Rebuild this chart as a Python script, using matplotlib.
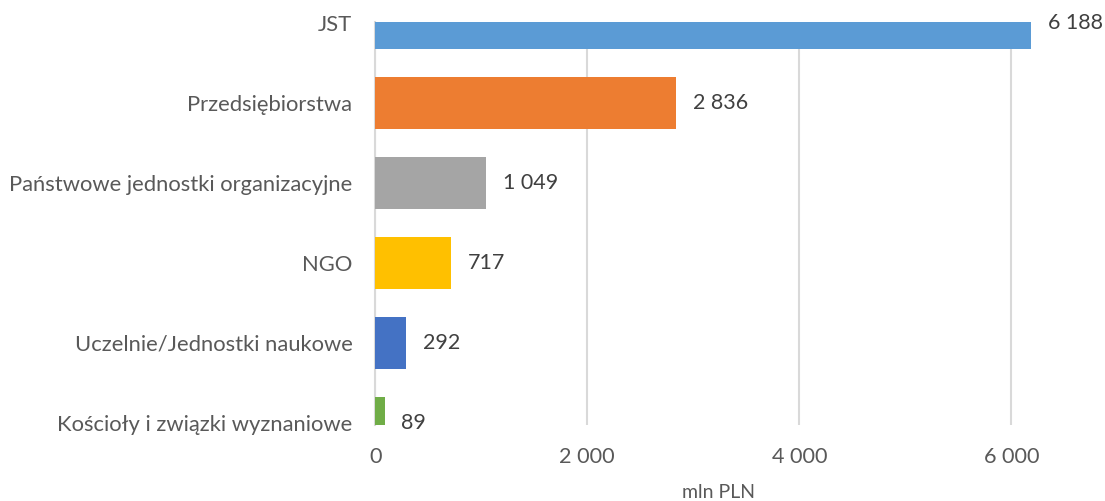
import matplotlib
matplotlib.use("Agg")
import matplotlib.pyplot as plt
from matplotlib.ticker import FuncFormatter

categories = [
    "JST",
    "Przedsiębiorstwa",
    "Państwowe jednostki organizacyjne",
    "NGO",
    "Uczelnie/Jednostki naukowe",
    "Kościoły i związki wyznaniowe",
]
values = [6188, 2836, 1049, 717, 292, 89]
colors = ["#5B9BD5", "#ED7D31", "#A5A5A5", "#FFC000", "#4472C4", "#70AD47"]
x_ticks = [0, 2000, 4000, 6000]
x_label = "mln PLN"


def fmt_thousands(v):
    return f"{int(round(v)):,}".replace(",", " ")


W, H = 1105, 501
fig = plt.figure(figsize=(W / 100, H / 100), dpi=100)
left_px, right_px, top_px, bottom_px = 375.3, 1064.3, 22, 425
ax = fig.add_axes([left_px / W, 1 - bottom_px / H,
                   (right_px - left_px) / W, (bottom_px - top_px) / H])

font = "Lato"
pos = list(range(len(categories)))
ax.barh(pos, values, height=0.65, color=colors, zorder=3)

ax.set_xlim(0, 6500)
ax.set_ylim(5.025, -0.0125)

ax.set_yticks(pos)
ax.set_yticklabels(categories, fontsize=15.8, color="#595959", family=font)
ax.set_xticks(x_ticks)
ax.xaxis.set_major_formatter(FuncFormatter(lambda v, p: fmt_thousands(v)))
for t in ax.get_xticklabels():
    t.set_fontsize(15.6)
    t.set_color("#595959")
    t.set_family(font)

ax.tick_params(axis="both", length=0)
ax.tick_params(axis="y", pad=16.5)
ax.tick_params(axis="x", pad=16)

ax.grid(axis="x", color="#D9D9D9", linewidth=1.5, zorder=0)
for s in ["top", "right", "bottom"]:
    ax.spines[s].set_visible(False)
ax.spines["left"].set_color("#D9D9D9")
ax.spines["left"].set_linewidth(1.5)

for p, v in zip(pos, values):
    ax.annotate(fmt_thousands(v), xy=(v, p), xytext=(12, 0),
                textcoords="offset points", va="center", ha="left",
                fontsize=15.5, color="#404040", family=font,
                annotation_clip=False)

fig.text(718 / W, 1 - 493 / H, x_label, ha="center", va="center",
         fontsize=14, color="#595959", family=font)

fig.savefig("out.png", dpi=100)
